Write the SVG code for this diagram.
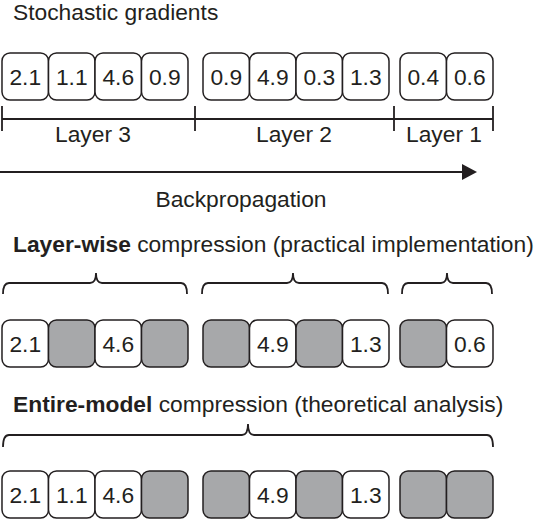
<svg xmlns="http://www.w3.org/2000/svg" width="538" height="520" viewBox="0 0 538 520">
<defs>
<style>
text{font-family:"Liberation Sans",Arial,Helvetica,sans-serif;font-size:22.8px;fill:#231f20}
.b{font-weight:bold}
.num{text-anchor:middle}
.box{fill:#fff;stroke:#231f20;stroke-width:1.5}
.g{fill:#a7a8aa;stroke:#231f20;stroke-width:1.5}
.ln{fill:none;stroke:#231f20;stroke-width:1.8}
</style>
</defs>
<rect width="538" height="520" fill="#fff"/>
<text x="13" y="20">Stochastic gradients</text>

<g id="row1">
<g id="r1g1">
<rect class="box" x="2" y="53" width="46.5" height="47" rx="8"/><text class="num" x="25.3" y="85">2.1</text>
<rect class="box" x="48.5" y="53" width="46.5" height="47" rx="8"/><text class="num" x="71.8" y="85">1.1</text>
<rect class="box" x="95" y="53" width="46.5" height="47" rx="8"/><text class="num" x="118.3" y="85">4.6</text>
<rect class="box" x="141.5" y="53" width="46.5" height="47" rx="8"/><text class="num" x="164.8" y="85">0.9</text>
</g>
<g id="r1g2">
<rect class="box" x="203" y="53" width="46.5" height="47" rx="8"/><text class="num" x="226.3" y="85">0.9</text>
<rect class="box" x="249.5" y="53" width="46.5" height="47" rx="8"/><text class="num" x="272.8" y="85">4.9</text>
<rect class="box" x="296" y="53" width="46.5" height="47" rx="8"/><text class="num" x="319.3" y="85">0.3</text>
<rect class="box" x="342.5" y="53" width="46.5" height="47" rx="8"/><text class="num" x="365.8" y="85">1.3</text>
</g>
<g id="r1g3">
<rect class="box" x="400" y="53" width="46.5" height="47" rx="8"/><text class="num" x="423.3" y="85">0.4</text>
<rect class="box" x="446.5" y="53" width="46.5" height="47" rx="8"/><text class="num" x="469.8" y="85">0.6</text>
</g>
</g>

<g id="layers">
<path class="ln" d="M2,119 H493 M2,106 V131 M195,106 V131 M394,106 V131 M493,106 V131"/>
<text class="num" x="93" y="142">Layer 3</text>
<text class="num" x="294" y="142">Layer 2</text>
<text class="num" x="444" y="142">Layer 1</text>
</g>

<g id="connectors">
<path class="ln" d="M0,172 H464"/>
<path d="M462,164 L477,172 L462,180 Z" fill="#231f20"/>
</g>
<text class="num" x="241" y="207">Backpropagation</text>

<text x="13" y="252"><tspan class="b">Layer-wise</tspan> compression (practical implementation)</text>

<g id="braces1">
<path class="ln" d="M3,294 Q3,283 9,283 H90 Q96,283 96,273 Q96,283 102,283 H181 Q187,283 187,294"/>
<path class="ln" d="M202,294 Q202,283 208,283 H287 Q293,283 293,273 Q293,283 299,283 H382 Q388,283 388,294"/>
<path class="ln" d="M402,294 Q402,283 408,283 H441 Q447,283 447,273 Q447,283 453,283 H486 Q492,283 492,294"/>
</g>

<g id="row2">
<rect class="box" x="2" y="320" width="46.5" height="47" rx="8"/><text class="num" x="25.3" y="352">2.1</text>
<rect class="g" x="48.5" y="320" width="46.5" height="47" rx="8"/>
<rect class="box" x="95" y="320" width="46.5" height="47" rx="8"/><text class="num" x="118.3" y="352">4.6</text>
<rect class="g" x="141.5" y="320" width="46.5" height="47" rx="8"/>
<rect class="g" x="203" y="320" width="46.5" height="47" rx="8"/>
<rect class="box" x="249.5" y="320" width="46.5" height="47" rx="8"/><text class="num" x="272.8" y="352">4.9</text>
<rect class="g" x="296" y="320" width="46.5" height="47" rx="8"/>
<rect class="box" x="342.5" y="320" width="46.5" height="47" rx="8"/><text class="num" x="365.8" y="352">1.3</text>
<rect class="g" x="400" y="320" width="46.5" height="47" rx="8"/>
<rect class="box" x="446.5" y="320" width="46.5" height="47" rx="8"/><text class="num" x="469.8" y="352">0.6</text>
</g>

<text x="13" y="412"><tspan class="b">Entire-model</tspan> compression (theoretical analysis)</text>

<g id="brace2">
<path class="ln" d="M3,447 Q3,435 9,435 H242 Q248,435 248,424 Q248,435 254,435 H487 Q493,435 493,447"/>
</g>

<g id="row3">
<rect class="box" x="2" y="471" width="46.5" height="47" rx="8"/><text class="num" x="25.3" y="503">2.1</text>
<rect class="box" x="48.5" y="471" width="46.5" height="47" rx="8"/><text class="num" x="71.8" y="503">1.1</text>
<rect class="box" x="95" y="471" width="46.5" height="47" rx="8"/><text class="num" x="118.3" y="503">4.6</text>
<rect class="g" x="141.5" y="471" width="46.5" height="47" rx="8"/>
<rect class="g" x="203" y="471" width="46.5" height="47" rx="8"/>
<rect class="box" x="249.5" y="471" width="46.5" height="47" rx="8"/><text class="num" x="272.8" y="503">4.9</text>
<rect class="g" x="296" y="471" width="46.5" height="47" rx="8"/>
<rect class="box" x="342.5" y="471" width="46.5" height="47" rx="8"/><text class="num" x="365.8" y="503">1.3</text>
<rect class="g" x="400" y="471" width="46.5" height="47" rx="8"/>
<rect class="g" x="446.5" y="471" width="46.5" height="47" rx="8"/>
</g>
</svg>
